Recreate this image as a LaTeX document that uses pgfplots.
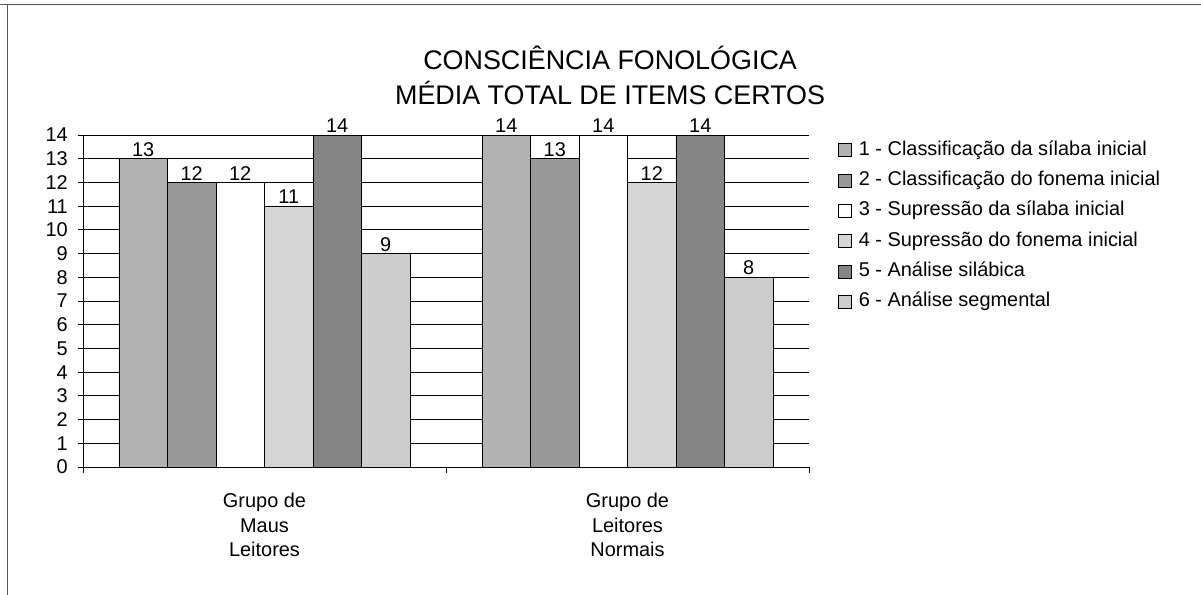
\documentclass[border=0pt]{standalone}
\usepackage{fontspec}
\setmainfont{Liberation Sans}
\usepackage{pgfplots}
\pgfplotsset{compat=1.18}
\definecolor{cA}{gray}{0.70}
\definecolor{cB}{gray}{0.60}
\definecolor{cC}{gray}{1.0}
\definecolor{cD}{gray}{0.84}
\definecolor{cE}{gray}{0.52}
\definecolor{cF}{gray}{0.80}
\begin{document}
\begin{tikzpicture}
\useasboundingbox (0,0) rectangle (1201bp,-595bp);
\fill[white] (0,0) rectangle (1201bp,-595bp);
\draw[black!65, line width=1bp] (0,-4bp) -- (1201bp,-4bp);
\draw[black!65, line width=1bp] (7bp,-4bp) -- (7bp,-595bp);
\begin{axis}[
  at={(83bp,-467bp)}, anchor=south west,
  scale only axis, width=726bp, height=332bp,
  ybar=0pt, bar width=48.5bp,
  xmin=-0.5, xmax=1.5, ymin=0, ymax=14,
  clip=false,
  ytick={0,...,14},
  ymajorgrids, major grid style={black, line width=1bp},
  axis x line*=bottom, axis y line*=left,
  axis line style={black, line width=1bp},
  tick align=outside,
  major tick length=5bp,
  every tick/.style={black, line width=1bp},
  /pgf/number format/assume math mode=true,
  yticklabel style={font=\fontsize{20}{24}\selectfont, inner sep=0pt, xshift=-10bp},
  xtick={0,1},
  xticklabels={Grupo de\\Maus\\Leitores, Grupo de\\Leitores\\Normais},
  xticklabel style={font=\fontsize{20}{24.5}\selectfont, align=center, inner sep=0pt, yshift=-21bp},
  x tick style={draw=none},
  extra x ticks={-0.5,0.5,1.5},
  extra x tick labels={},
  extra x tick style={x tick style={draw=black}, major tick length=6bp},
  title={CONSCIÊNCIA FONOLÓGICA\\MÉDIA TOTAL DE ITEMS CERTOS},
  title style={at={(axis description cs:0.726,1)}, anchor=south, yshift=24bp, inner sep=0pt,
    align=center, font=\fontsize{27}{35}\selectfont},
  nodes near coords,
  every node near coord/.append style={font=\fontsize{20}{24}\selectfont, inner sep=1bp, yshift=1bp},
  legend style={at={(axis description cs:1.040,0.988)}, anchor=north west, draw=none, fill=none,
    inner sep=0pt, row sep=7.3bp, font=\fontsize{20}{24}\selectfont,
    nodes={inner sep=2bp, text height=14bp, text depth=5bp},
    /tikz/every odd column/.append style={column sep=5bp}},
  legend cell align=left,
  legend image code/.code={\draw[#1, draw=black, line width=0.6bp] (0bp,-6bp) rectangle (13bp,7bp);},
]
\addplot[fill=cA, draw=black, line width=0.7bp] coordinates {(0,13) (1,14)};
\addplot[fill=cB, draw=black, line width=0.7bp] coordinates {(0,12) (1,13)};
\addplot[fill=cC, draw=black, line width=0.7bp] coordinates {(0,12) (1,14)};
\addplot[fill=cD, draw=black, line width=0.7bp] coordinates {(0,11) (1,12)};
\addplot[fill=cE, draw=black, line width=0.7bp] coordinates {(0,14) (1,14)};
\addplot[fill=cF, draw=black, line width=0.7bp] coordinates {(0,9) (1,8)};
\legend{1 - Classificação da sílaba inicial, 2 - Classificação do fonema inicial, 3 - Supressão da sílaba inicial, 4 - Supressão do fonema inicial, 5 - Análise silábica, 6 - Análise segmental}
\end{axis}
\end{tikzpicture}
\end{document}
